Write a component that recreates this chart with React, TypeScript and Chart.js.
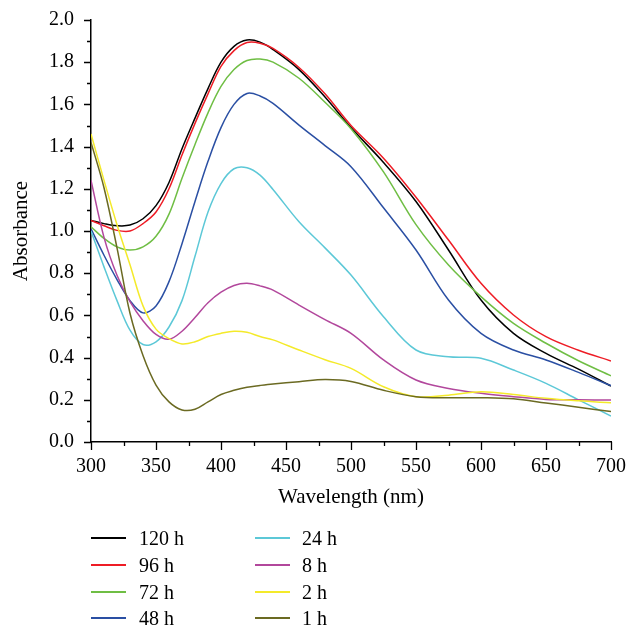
import React, { useEffect, useRef } from "react";
import { Chart, registerables } from "chart.js";

Chart.register(...registerables);

// Wavelength sample points (nm)
const wavelengths = [300, 310, 320, 330, 340, 350, 360, 370, 380, 390, 400, 410, 420, 430, 440, 460, 480, 500, 525, 550, 575, 600, 625, 650, 675, 700];

// Absorbance series
const h120 = [1.05, 1.035, 1.025, 1.028, 1.058, 1.12, 1.23, 1.39, 1.535, 1.675, 1.8, 1.875, 1.905, 1.895, 1.86, 1.765, 1.635, 1.49, 1.325, 1.14, 0.91, 0.673, 0.515, 0.42, 0.345, 0.265];
const h96 = [1.05, 1.025, 1.003, 1.0, 1.035, 1.09, 1.2, 1.36, 1.51, 1.65, 1.78, 1.855, 1.893, 1.89, 1.865, 1.775, 1.65, 1.5, 1.345, 1.16, 0.957, 0.752, 0.602, 0.499, 0.435, 0.384];
const h72 = [1.02, 0.965, 0.925, 0.91, 0.925, 0.975, 1.08, 1.25, 1.41, 1.56, 1.685, 1.765, 1.808, 1.815, 1.8, 1.724, 1.61, 1.485, 1.28, 1.03, 0.839, 0.689, 0.562, 0.468, 0.385, 0.314];
const h48 = [1.01, 0.885, 0.77, 0.67, 0.612, 0.645, 0.76, 0.94, 1.14, 1.33, 1.49, 1.6, 1.652, 1.64, 1.605, 1.502, 1.405, 1.305, 1.11, 0.91, 0.673, 0.515, 0.436, 0.389, 0.33, 0.267];
const h24 = [1.0, 0.83, 0.67, 0.53, 0.462, 0.475, 0.545, 0.67, 0.88, 1.09, 1.225, 1.295, 1.3, 1.265, 1.197, 1.044, 0.92, 0.791, 0.594, 0.436, 0.404, 0.397, 0.341, 0.278, 0.2, 0.123];
const h8 = [1.24, 0.97, 0.79, 0.665, 0.575, 0.51, 0.487, 0.525, 0.59, 0.66, 0.71, 0.742, 0.752, 0.74, 0.72, 0.649, 0.58, 0.515, 0.389, 0.294, 0.254, 0.231, 0.215, 0.202, 0.2, 0.199];
const h2 = [1.46, 1.24, 1.03, 0.84, 0.645, 0.535, 0.49, 0.465, 0.475, 0.5, 0.515, 0.525, 0.52, 0.5, 0.484, 0.436, 0.39, 0.349, 0.262, 0.215, 0.222, 0.238, 0.225, 0.207, 0.195, 0.186];
const h1 = [1.42, 1.205, 0.92, 0.61, 0.41, 0.27, 0.19, 0.152, 0.155, 0.19, 0.225, 0.245, 0.26, 0.268, 0.275, 0.286, 0.296, 0.287, 0.245, 0.215, 0.21, 0.21, 0.205, 0.185, 0.165, 0.144];

const seriesLabels = ["120 h", "96 h", "72 h", "48 h", "24 h", "8 h", "2 h", "1 h"];
const seriesValues = [h120, h96, h72, h48, h24, h8, h2, h1];
const seriesColors = ["#000000", "#ee1c25", "#6fbe44", "#2a4fa3", "#5cc8d7", "#b2479c", "#f4ea2a", "#6b6a22"];

const xTickValues = [300, 350, 400, 450, 500, 550, 600, 650, 700];
const yTickValues = [0, 0.2, 0.4, 0.6, 0.8, 1.0, 1.2, 1.4, 1.6, 1.8, 2.0];

const FONT = '"Liberation Serif", "Times New Roman", serif';

const minorTicksPlugin = {
  id: "axisTicks",
  afterDraw(chart: any) {
    const ctx = chart.ctx;
    const xs = chart.scales.x;
    const ys = chart.scales.y;
    const bottom = chart.chartArea.bottom;
    const left = chart.chartArea.left;
    ctx.save();
    ctx.strokeStyle = "#000";
    ctx.lineWidth = 1.3;
    ctx.beginPath();
    for (let i = 0; i < xTickValues.length; i++) {
      const px = Math.round(xs.getPixelForValue(xTickValues[i])) + 0.5;
      ctx.moveTo(px, bottom);
      ctx.lineTo(px, bottom + 8);
      if (i < xTickValues.length - 1) {
        const mid = (xTickValues[i] + xTickValues[i + 1]) / 2;
        const pm = Math.round(xs.getPixelForValue(mid)) + 0.5;
        ctx.moveTo(pm, bottom);
        ctx.lineTo(pm, bottom + 4);
      }
    }
    for (let i = 0; i < yTickValues.length; i++) {
      const py = Math.round(ys.getPixelForValue(yTickValues[i])) + 0.5;
      ctx.moveTo(left, py);
      ctx.lineTo(left - 7, py);
      if (i < yTickValues.length - 1) {
        const mid = (yTickValues[i] + yTickValues[i + 1]) / 2;
        const pm = Math.round(ys.getPixelForValue(mid)) + 0.5;
        ctx.moveTo(left, pm);
        ctx.lineTo(left - 4, pm);
      }
    }
    ctx.stroke();
    ctx.restore();
  },
};

function Legend() {
  const rows = [538, 565, 592, 618];
  return (
    <>
      {seriesLabels.map((label, i) => {
        const col = Math.floor(i / 4);
        const row = i % 4;
        const lineX = col === 0 ? 91 : 255;
        const textX = col === 0 ? 139 : 302;
        const cy = rows[row];
        return (
          <div key={label}>
            <div
              style={{
                position: "absolute",
                left: lineX,
                top: cy - 1,
                width: 35,
                height: 2,
                background: seriesColors[i],
              }}
            />
            <div
              style={{
                position: "absolute",
                left: textX,
                top: cy - 12,
                height: 24,
                lineHeight: "24px",
                fontFamily: FONT,
                fontSize: 20,
                color: "#000",
                whiteSpace: "nowrap",
              }}
            >
              {label}
            </div>
          </div>
        );
      })}
    </>
  );
}

export default function App() {
  const canvasRef = useRef<HTMLCanvasElement | null>(null);

  useEffect(() => {
    if (!canvasRef.current) return;
    const datasets = seriesLabels.map((label, i) => ({
      label,
      data: wavelengths.map((x, j) => ({ x, y: seriesValues[i][j] })),
      borderColor: seriesColors[i],
      backgroundColor: seriesColors[i],
      borderWidth: 1.5,
      pointRadius: 0,
      fill: false,
      tension: 0.35,
    }));
    const chart = new Chart(canvasRef.current, {
      type: "line",
      data: { datasets: datasets.slice().reverse() },
      options: {
        animation: false,
        responsive: false,
        devicePixelRatio: 1,
        layout: { padding: { left: 0, right: 17, top: 20, bottom: 116 } },
        plugins: { legend: { display: false }, tooltip: { enabled: false } },
        scales: {
          x: {
            type: "linear",
            min: 300,
            max: 700,
            afterFit: (s: any) => {
              s.height = 70;
              s.paddingLeft = 0;
              s.paddingRight = 0;
            },
            afterBuildTicks: (s: any) => {
              s.ticks = xTickValues.map((v) => ({ value: v }));
            },
            grid: { display: false, drawTicks: false },
            border: { display: true, color: "#000", width: 1.5 },
            ticks: {
              color: "#000",
              padding: 13,
              font: { family: FONT, size: 20 },
              maxRotation: 0,
              autoSkip: false,
            },
            title: {
              display: true,
              text: "Wavelength (nm)",
              color: "#000",
              font: { family: FONT, size: 21, lineHeight: 1.2 },
              padding: { top: 0, bottom: 2 },
            },
          },
          y: {
            type: "linear",
            min: 0,
            max: 2,
            afterFit: (s: any) => {
              s.width = 91;
              s.paddingTop = 0;
              s.paddingBottom = 0;
            },
            afterBuildTicks: (s: any) => {
              s.ticks = yTickValues.map((v) => ({ value: v }));
            },
            grid: { display: false, drawTicks: false },
            border: { display: true, color: "#000", width: 1.5 },
            ticks: {
              color: "#000",
              padding: 17,
              font: { family: FONT, size: 20 },
              callback: (v: any) => Number(v).toFixed(1),
            },
            title: {
              display: true,
              text: "Absorbance",
              color: "#000",
              font: { family: FONT, size: 21, lineHeight: 1.2 },
              padding: { top: 9, bottom: 0 },
            },
          },
        },
      },
      plugins: [minorTicksPlugin],
    });
    return () => chart.destroy();
  }, []);

  return (
    <div style={{ position: "absolute", left: 0, top: 0, width: 628, height: 628, background: "#fff" }}>
      <canvas ref={canvasRef} width={628} height={628} style={{ position: "absolute", left: 0, top: 0, width: 628, height: 628 }} />
      <Legend />
    </div>
  );
}
